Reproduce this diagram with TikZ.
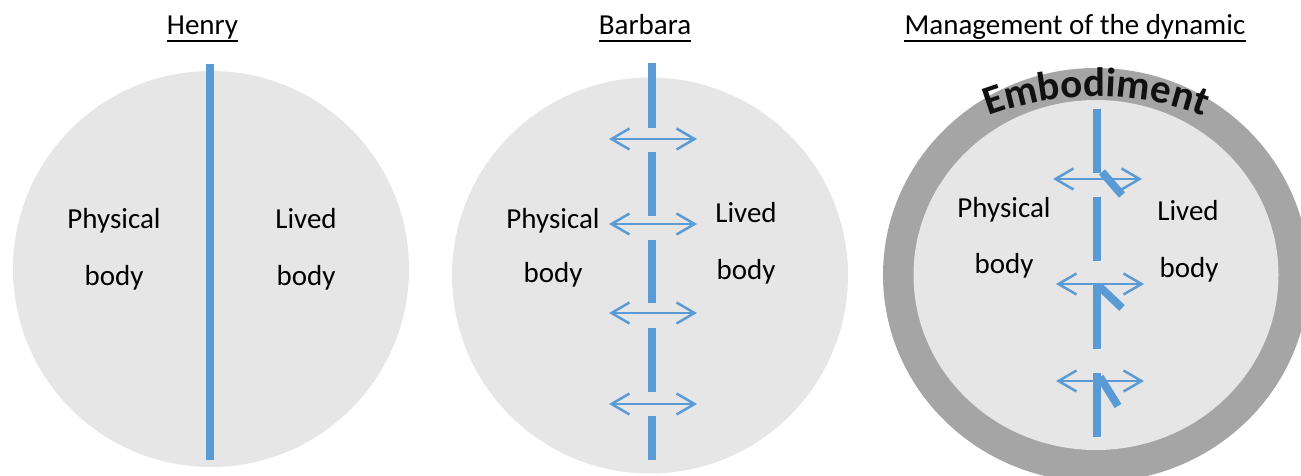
\documentclass[tikz,border=0pt]{standalone}
\usepackage{fontspec}
\setmainfont{Carlito}
\usetikzlibrary{arrows.meta,decorations.text,calc}
\definecolor{bodygray}{HTML}{E7E6E6}
\definecolor{ringgray}{HTML}{A5A5A5}
\definecolor{barblue}{HTML}{5B9BD5}
\definecolor{embblack}{HTML}{111111}
\newcommand\embfont{\fontsize{41}{41}\selectfont\bfseries}
\begin{document}
\begin{tikzpicture}[x=1pt,y=1pt,
  lbl/.style={font=\fontsize{29}{29}\selectfont, anchor=base, inner sep=0pt},
  ttl/.style={font=\fontsize{29}{29}\selectfont, anchor=base, inner sep=0pt},
  uline/.style={line width=2pt},
  bar/.style={draw=barblue, line width=8pt},
  dbl/.style={draw=barblue, line width=2.5pt, {Straight Barb[length=18pt,width=21pt]}-{Straight Barb[length=18pt,width=21pt]}},
  slash/.style={draw=barblue, line width=8pt}]
\useasboundingbox (0,0) rectangle (1301,475);
\clip (0,0) rectangle (1301,475);

% ---------- titles
\node[ttl] (t1) at (202.5,440) {Henry};
\node[ttl] (t2) at (645,440) {Barbara};
\node[ttl] (t3) at (1075,440) {Management of the dynamic};
\foreach \t in {t1,t2,t3}{
  \draw[uline] ([yshift=-6pt]\t.base west) -- ([yshift=-6pt]\t.base east);
}

% ---------- circle 1 : Henry
\node[circle, fill=bodygray, minimum size=396pt, inner sep=0pt] (c1) at (211,206) {};
\coordinate (h1) at (210,411);
\coordinate (h2) at (210,15);
\draw[bar] (h1) -- (h2);
\node[lbl] (p1) at (114,247) {Physical};
\node[lbl] (b1) at (114,190) {body};
\node[lbl] (l1) at (306,247) {Lived};
\node[lbl] (d1) at (306,190) {body};

% ---------- circle 2 : Barbara
\node[circle, fill=bodygray, minimum size=396pt, inner sep=0pt] (c2) at (650,199.5) {};
\foreach \a/\b in {412/347, 323/259, 235/172, 147/83, 59/15}{
  \draw[bar] (652,\a) -- (652,\b);
}
\foreach \y in {336,251,162,71}{
  \draw[dbl] (609,\y) -- (697,\y);
}
\node[lbl] (p2) at (553,247) {Physical};
\node[lbl] (b2) at (553,193) {body};
\node[lbl] (l2) at (746,253) {Lived};
\node[lbl] (d2) at (746,196) {body};

% ---------- circle 3 : Management of the dynamic
\fill[ringgray] (1096,200) ellipse[x radius=213, y radius=207];
\fill[bodygray] (1096,200) ellipse[x radius=182.5, y radius=175];
\foreach \a/\b in {366/302, 278/214, 192/126, 102/38}{
  \draw[bar] (1097,\a) -- (1097,\b);
}
\draw[dbl] (1053,296) -- (1142,296);
\draw[dbl] (1056,191) -- (1144,191);
\draw[dbl] (1056,94) -- (1144,94);
\draw[slash] (1102,303) -- (1122,280);
\draw[slash] (1100,188) -- (1122,167);
\draw[slash] (1100,98) -- (1118,69);
\node[lbl] (p3) at (1004,258) {Physical};
\node[lbl] (b3) at (1004,202) {body};
\node[lbl] (l3) at (1188,255) {Lived};
\node[lbl] (d3) at (1189,198) {body};

% curved label
\coordinate (ec) at (1096,71.5);
\path[decorate, decoration={text along path, text align=center,
   text color=embblack, text={|\embfont|Embodiment}}]
   ($(ec)+(125:307pt)$) arc[start angle=125, end angle=55, radius=307pt];
\end{tikzpicture}
\end{document}
